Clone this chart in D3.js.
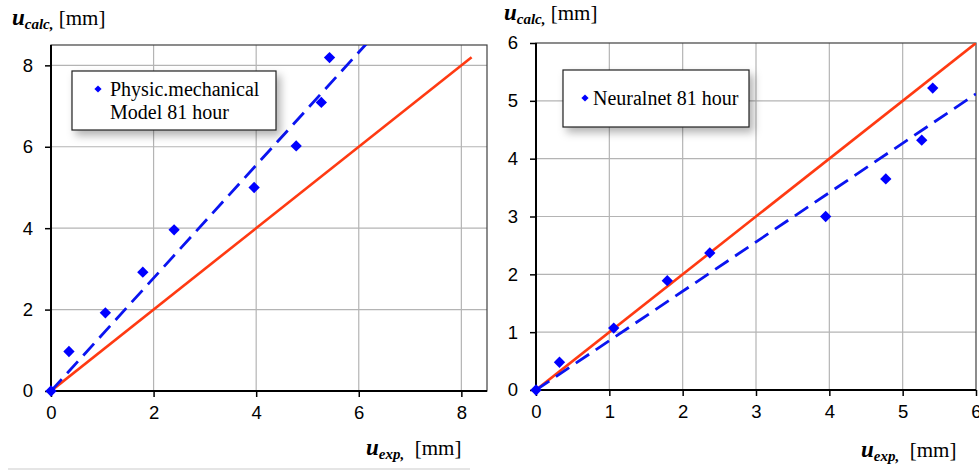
<!DOCTYPE html>
<html>
<head>
<meta charset="utf-8">
<script src="https://cdn.jsdelivr.net/npm/d3@7"></script>
<style>
  body { margin: 0; background: #fff; }
  svg { display: block; }
  .tick text { font-family: "Liberation Sans", Arial, sans-serif; font-size: 18.5px; fill: #000; }
  .title { font-family: "Liberation Serif", "Times New Roman", serif; fill: #000; }
</style>
</head>
<body>
<div id="chart"></div>
<script>
// Panneau gauche : modèle physico-mécanique
const xExpLeft = [0, 0.35, 1.06, 1.79, 2.4, 3.96, 4.78, 5.27, 5.43]
const yPhysic = [0, 0.97, 1.92, 2.92, 3.96, 5.0, 6.02, 7.09, 8.19]
const ticksLeft = [0, 2, 4, 6, 8]
const fitLeft = [[0, 0], [6.2, 8.6]]      // droite de régression (tirets)
const diagLeft = [[0, 0], [8.2, 8.2]]     // bissectrice

// Panneau droit : réseau de neurones
const xExpRight = [0, 0.32, 1.06, 1.79, 2.37, 3.95, 4.77, 5.26, 5.41]
const yNeural = [0, 0.48, 1.07, 1.89, 2.37, 3.0, 3.65, 4.32, 5.22]
const ticksRight = [0, 1, 2, 3, 4, 5, 6]
const fitRight = [[0, 0], [6, 5.12]]
const diagRight = [[0, 0], [6, 6]]

const svg = d3.select("#chart").append("svg").attr("width", 979).attr("height", 472)

const defs = svg.append("defs")
const shadow = defs.append("filter").attr("id", "shadow")
   .attr("x", "-20%").attr("y", "-20%").attr("width", "150%").attr("height", "160%")
shadow.append("feDropShadow").attr("dx", 4).attr("dy", 5).attr("stdDeviation", 4)
   .attr("flood-color", "#000").attr("flood-opacity", 0.3)

// bas de l'image : filet gris clair
svg.append("line").attr("x1", 8).attr("x2", 470).attr("y1", 469).attr("y2", 469)
   .attr("stroke", "#ddd").attr("stroke-width", 1.5)

function drawPanel(p) {
   const x = d3.scaleLinear().domain([0, p.max]).range([p.left, p.right])
   const y = d3.scaleLinear().domain([0, p.max]).range([p.bottom, p.top])
   const g = svg.append("g")

   defs.append("clipPath").attr("id", "clip" + p.id)
      .append("rect").attr("x", p.left).attr("y", p.top)
      .attr("width", p.right - p.left).attr("height", p.bottom - p.top)

   // grille
   g.append("g").selectAll("line.v").data(p.ticks.filter(t => t > 0 && t < p.max)).join("line")
      .attr("x1", d => x(d)).attr("x2", d => x(d)).attr("y1", p.top).attr("y2", p.bottom)
      .attr("stroke", "#b4b4b4").attr("stroke-width", 1.2)
   g.append("g").selectAll("line.h").data(p.ticks.filter(t => t > 0 && t < p.max)).join("line")
      .attr("x1", p.left).attr("x2", p.right).attr("y1", d => y(d)).attr("y2", d => y(d))
      .attr("stroke", "#b4b4b4").attr("stroke-width", 1.2)

   // cadre
   g.append("rect").attr("x", p.left).attr("y", p.top)
      .attr("width", p.right - p.left).attr("height", p.bottom - p.top)
      .attr("fill", "none").attr("stroke", "#404040").attr("stroke-width", 1.2)

   // axes
   const fmt = d3.format("d")
   const ax = g.append("g").attr("transform", `translate(0,${p.bottom})`)
      .call(d3.axisBottom(x).tickValues(p.ticks).tickFormat(fmt).tickSize(6).tickSizeOuter(0).tickPadding(9))
   const ay = g.append("g").attr("transform", `translate(${p.left},0)`)
      .call(d3.axisLeft(y).tickValues(p.ticks).tickFormat(fmt).tickSize(6).tickSizeOuter(0).tickPadding(p.padY))
   for (const a of [ax, ay]) {
      a.select(".domain").remove()
      a.selectAll(".tick line").attr("stroke", "#000").attr("stroke-width", 1.5)
   }
   g.append("line").attr("x1", p.left).attr("x2", p.left).attr("y1", p.top).attr("y2", p.bottom)
      .attr("stroke", "#000").attr("stroke-width", 2)
   g.append("line").attr("x1", p.left).attr("x2", p.right).attr("y1", p.bottom).attr("y2", p.bottom)
      .attr("stroke", "#000").attr("stroke-width", 2)

   const line = d3.line().x(d => x(d[0])).y(d => y(d[1]))
   const plot = g.append("g").attr("clip-path", `url(#clip${p.id})`)
   plot.append("path").attr("d", line(p.diag)).attr("fill", "none")
      .attr("stroke", "#ff3a12").attr("stroke-width", 2.6)
   plot.append("path").attr("d", line(p.fit)).attr("fill", "none")
      .attr("stroke", "#0a14f0").attr("stroke-width", 2.8).attr("stroke-dasharray", "16,8")

   const diamond = d3.symbol().type(d3.symbolSquare).size(64)
   g.append("g").selectAll("path").data(p.xs).join("path")
      .attr("d", diamond)
      .attr("transform", (d, i) => `translate(${x(d)},${y(p.ys[i])}) rotate(45)`)
      .attr("fill", "#0000ff")

   // légende
   const lg = g.append("g")
   lg.append("rect").attr("x", p.legend.x).attr("y", p.legend.y)
      .attr("width", p.legend.w).attr("height", p.legend.h)
      .attr("fill", "#fff").attr("stroke", "#222").attr("stroke-width", 1.2)
      .attr("filter", "url(#shadow)")
   lg.append("path").attr("d", d3.symbol().type(d3.symbolSquare).size(26))
      .attr("transform", `translate(${p.legend.mx},${p.legend.my}) rotate(45)`)
      .attr("fill", "#0000ff")
   p.legend.lines.forEach((t, i) => {
      lg.append("text").attr("class", "title")
         .attr("x", p.legend.tx).attr("y", p.legend.ty + i * 23)
         .attr("font-size", 20).text(t)
   })

   // titres des axes
   const ty = g.append("text").attr("class", "title").attr("x", p.yTitle[0]).attr("y", p.yTitle[1])
   ty.append("tspan").attr("font-size", 23).attr("font-weight", "bold").attr("font-style", "italic").text("u")
   ty.append("tspan").attr("font-size", 15).attr("font-weight", "bold").attr("font-style", "italic")
      .attr("dy", 4).text("calc,")
   ty.append("tspan").attr("font-size", 21).attr("dy", -4).text(" [mm]")

   const tx = g.append("text").attr("class", "title").attr("x", p.xTitle[0]).attr("y", p.xTitle[1])
   tx.append("tspan").attr("font-size", 23).attr("font-weight", "bold").attr("font-style", "italic").text("u")
   tx.append("tspan").attr("font-size", 15).attr("font-weight", "bold").attr("font-style", "italic")
      .attr("dy", 4).text("exp,")
   tx.append("tspan").attr("font-size", 21).attr("dy", -4).attr("xml:space", "preserve").text("  [mm]")
}

drawPanel({
   id: "L", max: 8.5, left: 51, right: 487, top: 45, bottom: 391, padY: 12,
   ticks: ticksLeft, xs: xExpLeft, ys: yPhysic, fit: fitLeft, diag: diagLeft,
   legend: {x: 72, y: 71, w: 204, h: 59, mx: 98, my: 89, tx: 110, ty: 96,
      lines: ["Physic.mechanical", "Model 81 hour"]},
   yTitle: [12, 25], xTitle: [366, 455]
})

drawPanel({
   id: "R", max: 6, left: 536, right: 976, top: 43, bottom: 390, padY: 12,
   ticks: ticksRight, xs: xExpRight, ys: yNeural, fit: fitRight, diag: diagRight,
   legend: {x: 563, y: 70, w: 186, h: 57, mx: 585, my: 98, tx: 593, ty: 105,
      lines: ["Neuralnet 81 hour"]},
   yTitle: [504, 20], xTitle: [861, 457]
})
</script>
</body>
</html>
